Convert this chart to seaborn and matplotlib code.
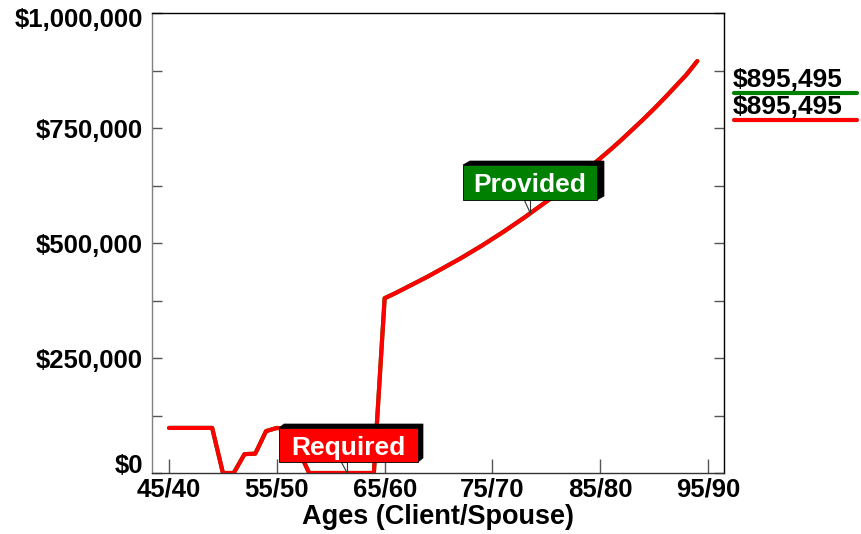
import matplotlib
matplotlib.use("Agg")
import matplotlib.pyplot as plt
import matplotlib.transforms as mtransforms
from matplotlib.patches import Polygon
from matplotlib.lines import Line2D
from matplotlib.ticker import MultipleLocator
import numpy as np
import pandas as pd
import seaborn as sns

# ---- data -------------------------------------------------------------
client_ages = list(range(45, 95))
required = [
    98000, 98000, 98000, 98000, 98000,          # 45-49
    0, 0, 41000, 42000, 91000,                  # 50-54
    98000, 95000, 50000, 0, 0,                  # 55-59
    0, 0, 0, 0, 0,                              # 60-64
    380000, 391000, 403000, 415000, 427000,     # 65-69
    440000, 453000, 466000, 480000, 494000,     # 70-74
    509000, 524000, 540000, 556000, 573000,     # 75-79
    590000, 607000, 626000, 644000, 664000,     # 80-84
    684000, 704000, 725000, 747000, 769000,     # 85-89
    792000, 816000, 841000, 866000, 895495,     # 90-94
]
provided = list(required)

xtick_ages = [45, 55, 65, 75, 85, 95]
xtick_labels = ["45/40", "55/50", "65/60", "75/70", "85/80", "95/90"]
ytick_values = [0, 250000, 500000, 750000, 1000000]
ytick_labels = ["$0", "$250,000", "$500,000", "$750,000", "$1,000,000"]

required_callout_age = 61.5
provided_callout_age = 78.5

RED = "#ff0000"
GREEN = "#008000"

# ---- style ------------------------------------------------------------
sns.set_style("white")
plt.rcParams["font.family"] = ["Liberation Sans", "DejaVu Sans"]
plt.rcParams["font.weight"] = "bold"
plt.rcParams["text.color"] = "black"
plt.rcParams["axes.labelcolor"] = "black"
plt.rcParams["xtick.labelcolor"] = "black"
plt.rcParams["ytick.labelcolor"] = "black"

W, H = 862, 534
fig = plt.figure(figsize=(W / 100, H / 100), dpi=100)
ax = fig.add_axes([152 / W, 1 - 473 / H, (724 - 152) / W, (473 - 13) / H])

df = pd.DataFrame({"age": client_ages, "Required": required, "Provided": provided})
sns.lineplot(data=df, x="age", y="Provided", color=GREEN, lw=3, ax=ax)
sns.lineplot(data=df, x="age", y="Required", color=RED, lw=3, ax=ax)

ax.set_xlim(43.42, 96.48)
ax.set_ylim(0, 1000000)
ax.set_xticks(xtick_ages, xtick_labels)
ax.set_yticks(ytick_values, ytick_labels)
ax.yaxis.set_minor_locator(MultipleLocator(125000))
ax.tick_params(axis="y", which="both", direction="in", left=True, right=True,
               length=7, width=1, color="#555555", labelsize=18.5, pad=6.5,
               labelcolor="black")
ax.tick_params(axis="x", which="major", direction="in", bottom=True, top=False,
               length=10, width=1, color="#555555", labelsize=18.5, pad=3.5,
               labelcolor="black")
ax.set_xlabel("Ages (Client/Spouse)", fontsize=19.5, fontweight="bold",
              labelpad=1.5, color="black")
ax.set_ylabel("")

for side, col in [("left", "#808080"), ("bottom", "#333333"),
                  ("top", "#000000"), ("right", "#000000")]:
    ax.spines[side].set_visible(True)
    ax.spines[side].set_color(col)
    ax.spines[side].set_linewidth(1)

# keep the end labels inside the plot height
yticks = ax.yaxis.get_major_ticks()
yticks[0].label1.set_va("baseline")
top_lab = yticks[-1].label1
top_lab.set_va("top")
top_lab.set_transform(top_lab.get_transform() +
                      mtransforms.ScaledTranslation(0, 5 / 100, fig.dpi_scale_trans))


# ---- callouts ---------------------------------------------------------
def fpt(x, y):
    """pixel position (from top-left) -> figure fraction"""
    return (x / W, 1 - y / H)


def data_px(xv, yv):
    dx, dy = ax.transData.transform((xv, yv))
    return dx, H - dy


def callout(text, color, x0, x1, y0, y1, dx, dy, tip_age, series):
    tip_val = float(np.interp(tip_age, client_ages, series))
    tx, ty = data_px(tip_age, tip_val)
    wedge = Polygon([fpt(tx - 6, y1), fpt(tx, y1), fpt(tx, ty)], closed=True,
                    facecolor="white", edgecolor="#333333", lw=0.8,
                    transform=fig.transFigure, zorder=5)
    fig.add_artist(wedge)
    shadow = Polygon([fpt(x0, y0), fpt(x0 + dx, y0 - dy), fpt(x1 + dx, y0 - dy),
                      fpt(x1 + dx, y1 - dy), fpt(x1, y1), fpt(x1, y0)],
                     closed=True, facecolor="black", edgecolor="black", lw=0.5,
                     transform=fig.transFigure, zorder=6)
    fig.add_artist(shadow)
    box = Polygon([fpt(x0, y0), fpt(x1, y0), fpt(x1, y1), fpt(x0, y1)], closed=True,
                  facecolor=color, edgecolor="black", lw=0.6,
                  transform=fig.transFigure, zorder=7)
    fig.add_artist(box)
    cx, cy = fpt((x0 + x1) / 2, (y0 + y1) / 2)
    fig.text(cx, cy, text, color="white", fontsize=19, fontweight="bold",
             ha="center", va="center_baseline", zorder=8)


callout("Required", RED, 279, 418, 428, 462, 5, 4, required_callout_age, required)
callout("Provided", GREEN, 463, 597, 165, 200, 7, 4, provided_callout_age, provided)

# ---- end-value labels at the right ------------------------------------
for val, col, base_y, line_y in [(provided[-1], GREEN, 87, 93),
                                  (required[-1], RED, 114, 120)]:
    fx, fy = fpt(733, base_y)
    fig.text(fx, fy, f"${val:,.0f}", color="black", fontsize=19,
             fontweight="bold", ha="left", va="baseline")
    (lx0, ly), (lx1, _) = fpt(734, line_y), fpt(857, line_y)
    fig.add_artist(Line2D([lx0, lx1], [ly, ly], color=col, lw=3,
                          solid_capstyle="round", transform=fig.transFigure))

fig.savefig("out.png", dpi=100)
